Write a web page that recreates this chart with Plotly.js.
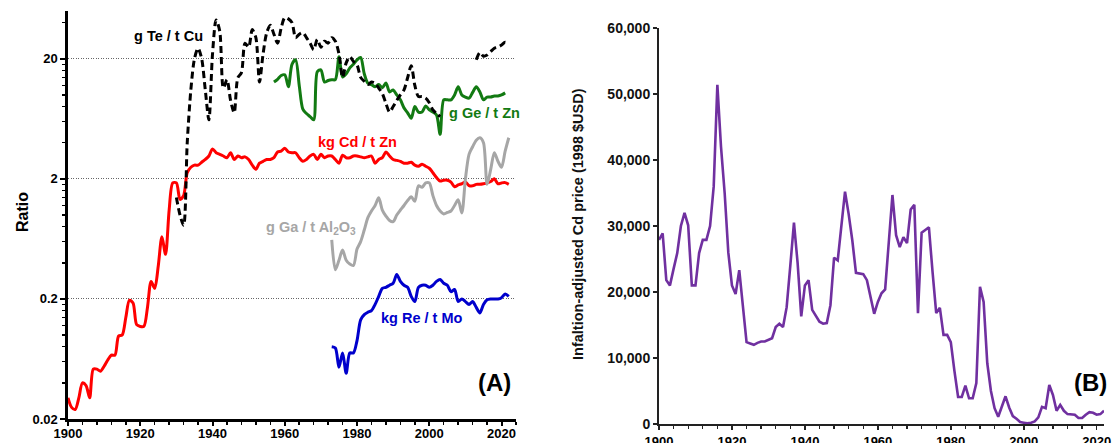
<!DOCTYPE html>
<html><head><meta charset="utf-8">
<script src="https://cdn.plot.ly/plotly-3.0.1.min.js"></script>
<style>html,body{margin:0;padding:0;background:#fff;}#chart{width:1120px;height:443px;}</style>
</head><body><div id="chart"></div>
<script>
// ---------- Panel A data (ratios, log scale) ----------
const cdStart = 1900;
const cdValues = [
  0.030,0.025,0.024,0.030,0.040,0.038,0.030,0.052,0.052,0.050,
  0.055,0.062,0.068,0.068,0.098,0.10,0.14,0.195,0.185,0.122,
  0.118,0.118,0.17,0.28,0.245,0.38,0.66,0.47,1.1,1.85,
  1.85,1.35,1.45,2.25,2.5,2.6,2.6,2.75,2.9,3.1,
  3.55,3.3,3.2,3.1,3.0,3.3,2.9,3.1,3.0,3.05,
  2.9,2.6,2.4,2.7,2.8,2.9,2.9,3.0,3.35,3.4,
  3.6,3.35,3.3,3.3,3.0,2.8,2.9,3.1,3.2,2.9,
  3.2,3.0,3.1,3.1,2.9,2.7,3.15,3.0,3.0,3.1,
  3.1,3.05,3.0,3.05,3.1,2.7,2.9,3.0,3.35,3.1,
  2.9,2.85,2.8,2.7,2.7,2.75,2.6,2.55,2.65,2.55,
  2.45,2.25,2.05,1.92,1.95,1.95,1.88,1.72,1.78,1.82,
  1.88,1.76,1.75,1.8,1.8,1.82,1.85,1.9,2.0,1.82,
  1.85,1.86,1.8
];
const teStart = 1930;
const teValues = [
  1.4,1.0,0.82,4.0,11,20,24.5,20,11,6.2,
  22,42,34,11.4,13.4,9,7.1,13.9,15.3,27,
  25,35,30,12.8,22,33,38,32,27,36,
  44,43,40,30,32,33,30,27,23.8,29,
  25,28,27,30,28,22,14,18.5,20.8,19,
  17.8,14,13,12.2,12.8,12.5,11.4,10.3,8.5,7.2,
  8,9,10,11,13.9,17.5,12,9.7,9.7,9.4,
  8.6,7.5,7,6.6,null,null,null,null,null,null,
  null,null,null,19.6,22.5,21,21.5,23,24.5,25,
  26,27.5,26.5
];
const geStart = 1957;
const geValues = [
  12.8,13.5,14.5,14.7,11.7,18,19.6,12,7.6,7,
  6.6,6.2,15.6,16.2,12.8,13.2,13.4,13.4,20.8,14.1,
  15,16.8,18,19.6,20.5,15,12.5,12.2,11.7,12.2,
  11.5,12.6,10.6,11,10,9.1,7.8,7.1,6.4,8,
  7.2,7.2,8.1,7.5,7.2,6.8,4.7,9.1,9.1,9.1,
  10,11.7,10,9.6,9.4,10.5,11.7,10.6,9.1,9.6,
  9.6,9.8,9.8,10,10.4
];
const gaStart = 1973;
const gaValues = [
  0.62,0.35,0.42,0.51,0.42,0.39,0.38,0.52,0.6,0.75,
  0.95,1.08,1.2,1.39,1.1,0.98,0.9,0.88,1.0,1.1,
  1.2,1.32,1.42,1.3,1.75,1.7,1.85,1.85,1.45,1.2,
  1.08,1.02,1.05,1.08,1.2,1.34,1.04,2.0,3.2,3.7,
  4.2,4.4,4.0,1.8,2.4,3.3,2.8,2.5,3.4,4.4
];
const reStart = 1973;
const reValues = [
  0.080,0.078,0.054,0.071,0.048,0.071,0.071,0.09,0.134,0.148,
  0.155,0.16,0.18,0.21,0.245,0.25,0.26,0.27,0.32,0.28,
  0.26,0.25,0.21,0.19,0.25,0.26,0.26,0.25,0.26,0.28,
  0.29,0.27,0.26,0.23,0.24,0.19,0.2,0.19,0.18,0.19,
  0.17,0.153,0.18,0.197,0.2,0.2,0.2,0.205,0.22,0.21
];
const ratioTickVals = [0.02,0.2,2,20];
const ratioTickText = ['0.02','0.2','2','20'];
const ratioMinorVals = [0.04,0.06,0.08,0.1,0.12,0.14,0.16,0.18,0.4,0.6,0.8,1,1.2,1.4,1.6,1.8,4,6,8,10,12,14,16,18,40];
const yearTicks = [1900,1920,1940,1960,1980,2000,2020];

// ---------- Panel B data (Cd price, 1998 USD) ----------
const priceStart = 1900;
const priceValues = [
  27900,28900,21800,21000,23500,25900,30000,32000,30100,21000,
  21000,25900,27900,27900,30000,36000,51400,42000,35000,26000,
  21000,19700,23300,17300,12400,12200,12000,12300,12500,12500,
  12800,13000,14700,15200,14700,17700,24000,30500,24400,16300,
  21000,21800,17300,16500,15500,15200,15300,18000,25200,24800,
  30000,35200,31800,27800,22900,22800,22700,21800,19000,16700,
  18500,19800,20400,27000,34700,28600,26800,28300,27400,32500,
  33200,16800,29000,29400,29800,23000,16800,17600,13500,13500,
  12400,8000,4100,4100,5800,3900,3900,6200,20800,18500,
  9200,5000,2400,1100,2500,4200,2500,1200,800,300,
  200,100,200,400,1000,2600,2400,5900,4400,2000,
  2900,2000,1500,1450,1400,900,900,1400,1800,1700,
  1400,1500,2000
];
const priceTicks = [0,10000,20000,30000,40000,50000,60000];

function years(start, n){ const a=[]; for(let i=0;i<n;i++) a.push(start+i); return a; }
function minorYears(a,b){ const r=[]; for(let y=a;y<=b;y+=4){ if(y%20!==0) r.push(y);} return r; }

const W=1120, H=443;
const px = v => v/W, py = v => 1 - v/H;

const lineA = (start, vals, color, extra) => Object.assign({
  x: years(start, vals.length), y: vals, type:'scatter', mode:'lines',
  xaxis:'x', yaxis:'y', connectgaps:false, hoverinfo:'skip',
  line:{color:color, width:3, shape:'spline', smoothing:0.8}
}, extra||{});

const traces = [
  lineA(cdStart, cdValues, '#ff0000'),
  lineA(gaStart, gaValues, '#a6a6a6'),
  lineA(reStart, reValues, '#0000cc'),
  lineA(geStart, geValues, '#127a12'),
  lineA(teStart, teValues, '#000000', {line:{color:'#000', width:3, shape:'spline', smoothing:0.8, dash:'7px,4px'}}),
  {x: years(priceStart, priceValues.length), y: priceValues, type:'scatter', mode:'lines',
   xaxis:'x2', yaxis:'y2', hoverinfo:'skip', line:{color:'#7030a0', width:2.6}}
];

const FONT = 'Arial, "Liberation Sans", sans-serif';
const tickF = {family:FONT, size:13, color:'#000', weight:'bold'};

function label(text, x, y, size, color, angle){
  return {text:'<b>'+text+'</b>', xref:'paper', yref:'paper', x:px(x), y:py(y), showarrow:false,
          xanchor:'center', yanchor:'middle', textangle:angle||0, font:{family:FONT, size:size, color:color}};
}

const layout = {
  width:W, height:H, margin:{l:0,r:0,t:0,b:0}, showlegend:false,
  paper_bgcolor:'#fff', plot_bgcolor:'rgba(0,0,0,0)',
  font:{family:FONT, color:'#000'},
  xaxis:{domain:[px(68),px(516)], range:[1900,2024], anchor:'y',
    tickmode:'array', tickvals:yearTicks, ticks:'outside', ticklen:4, tickwidth:2, tickcolor:'#000',
    ticklabelstandoff:-3,
    showline:true, linewidth:2.6, linecolor:'#000', showgrid:false, zeroline:false, tickfont:tickF,
    minor:{tickmode:'array', tickvals:minorYears(1900,2024), ticks:'outside', ticklen:3, tickwidth:1.5, tickcolor:'#000', showgrid:false}},
  yaxis:{domain:[py(419),py(11)], type:'log', range:[Math.log10(0.02), Math.log10(50)], anchor:'x',
    tickmode:'array', tickvals:ratioTickVals, ticktext:ratioTickText, ticks:'outside', ticklen:5, tickwidth:2, tickcolor:'#000',
    showline:true, linewidth:2.6, linecolor:'#000', showgrid:true, gridcolor:'#666666', gridwidth:1, griddash:'1px,1.5px',
    zeroline:false, tickfont:tickF,
    minor:{tickmode:'array', tickvals:ratioMinorVals, ticks:'outside', ticklen:3.5, tickwidth:1.5, tickcolor:'#000', showgrid:false}},
  xaxis2:{domain:[px(659),px(1104)], range:[1900,2022], anchor:'y2',
    tickmode:'array', tickvals:yearTicks, ticks:'outside', ticklen:4, tickwidth:1.5, tickcolor:'#222',
    showline:true, linewidth:2, linecolor:'#222', showgrid:false, zeroline:false, tickfont:tickF,
    minor:{tickmode:'array', tickvals:minorYears(1900,2022), ticks:'outside', ticklen:3, tickwidth:1.3, tickcolor:'#222', showgrid:false}},
  yaxis2:{domain:[py(424),py(28)], range:[0,60000], anchor:'x2',
    tickmode:'array', tickvals:priceTicks, tickformat:',d', ticks:'outside', ticklen:4, tickwidth:1.5, tickcolor:'#222',
    showline:true, linewidth:2, linecolor:'#222', showgrid:false, zeroline:false,
    tickfont:{family:FONT, size:14, color:'#111', weight:'bold'}},
  annotations:[
    label('Ratio', 22, 212, 16, '#000', -90),
    label('Infaltion-adjusted Cd price (1998 $USD)', 578, 224, 14.5, '#111', -90),
    label('g Te / t Cu', 168, 36, 14.5, '#000'),
    label('g Ge / t Zn', 484, 113, 14.5, '#127a12'),
    label('kg Cd / t Zn', 357, 142, 14.5, '#ff0000'),
    label('g Ga / t Al<sub>2</sub>O<sub>3</sub>', 311, 228, 14.5, '#a6a6a6'),
    label('kg Re / t Mo', 422, 318, 14.5, '#0000cc'),
    label('(A)', 494, 382, 24, '#000'),
    label('(B)', 1090, 382, 24, '#000')
  ]
};

Plotly.newPlot('chart', traces, layout, {staticPlot:true, displayModeBar:false});
</script>
</body></html>
